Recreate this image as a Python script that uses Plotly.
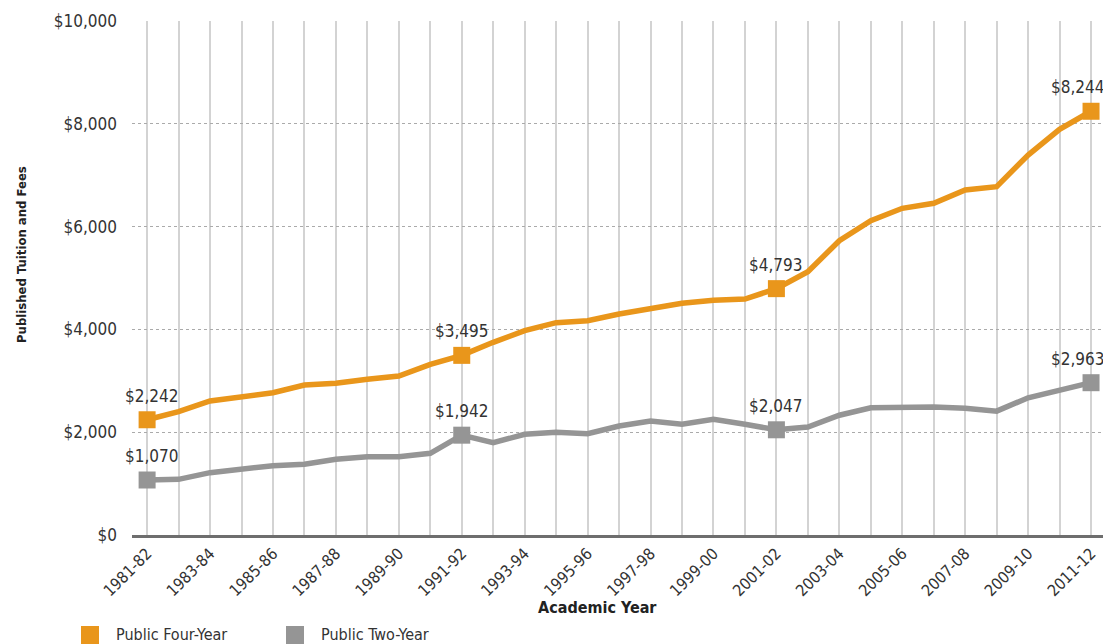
import plotly.graph_objects as go

years = ["1981-82", "1982-83", "1983-84", "1984-85", "1985-86", "1986-87", "1987-88",
         "1988-89", "1989-90", "1990-91", "1991-92", "1992-93", "1993-94", "1994-95",
         "1995-96", "1996-97", "1997-98", "1998-99", "1999-00", "2000-01", "2001-02",
         "2002-03", "2003-04", "2004-05", "2005-06", "2006-07", "2007-08", "2008-09",
         "2009-10", "2010-11", "2011-12"]

four_year = [2242, 2399, 2607, 2679, 2769, 2918, 2951, 3029, 3093, 3321, 3495,
             3749, 3975, 4131, 4170, 4300, 4391, 4508, 4565, 4590, 4793,
             5122, 5726, 6115, 6356, 6453, 6712, 6776, 7393, 7893, 8244]

two_year = [1070, 1083, 1213, 1284, 1349, 1375, 1472, 1524, 1524, 1589, 1942,
            1796, 1959, 1998, 1971, 2121, 2218, 2154, 2251, 2154, 2047,
            2100, 2330, 2475, 2495, 2490, 2465, 2410, 2670, 2830, 2963]

series_names = ["Public Four-Year", "Public Two-Year"]
highlight_idx = [0, 10, 20, 30]
y_ticks = [0, 2000, 4000, 6000, 8000, 10000]

ORANGE = "#E9961B"
GRAY = "#959595"
FONT = "DejaVu Sans Condensed, Roboto, sans-serif"
TXT = "#333333"

# page body has an 8px margin; figure is sized/placed to compensate
W, H = 1103, 636
ML, MR, MT, MB = 124, 8, 13, 109
PW, PH = W - ML - MR, H - MT - MB


def px(sx):  # screen x -> paper x
    return (sx - 8 - ML) / PW


def py(sy):  # screen y -> paper y
    return (H - MB - (sy - 8)) / PH


x_idx = list(range(len(years)))
tick_text = [y if i % 2 == 0 else "" for i, y in enumerate(years)]
label_xshift = {0: 5, 30: -13}

fig = go.Figure()
annotations = []
shapes = []

legend_pos = [(81, 114), (286, 319)]
for (name, vals, col), (lx, tx) in zip(
        [(series_names[0], four_year, ORANGE), (series_names[1], two_year, GRAY)],
        legend_pos):
    fig.add_trace(go.Scatter(x=x_idx, y=vals, mode="lines", name=name,
                             line=dict(color=col, width=5.5),
                             showlegend=False, cliponaxis=False))
    hx = [x_idx[i] for i in highlight_idx]
    hy = [vals[i] for i in highlight_idx]
    fig.add_trace(go.Scatter(x=hx, y=hy, mode="markers", name=name,
                             marker=dict(color=col, symbol="square", size=17),
                             showlegend=False, cliponaxis=False))
    for i in highlight_idx:
        annotations.append(dict(x=x_idx[i], y=vals[i], xref="x", yref="y",
                                text=f"${vals[i]:,}", showarrow=False,
                                xanchor="center", yanchor="middle",
                                yshift=24, xshift=label_xshift.get(i, 0),
                                font=dict(family=FONT, size=17, color=TXT)))
    # legend entry
    shapes.append(dict(type="rect", xref="paper", yref="paper",
                       x0=px(lx), x1=px(lx + 18), y0=py(644), y1=py(626),
                       fillcolor=col, line=dict(width=0)))
    annotations.append(dict(text=name, xref="paper", yref="paper",
                            x=px(tx), y=py(634), xanchor="left", yanchor="middle",
                            showarrow=False,
                            font=dict(family=FONT, size=16, color=TXT)))

annotations += [
    dict(text="<b>Academic Year</b>", xref="paper", yref="paper",
         x=px(597), y=py(607), xanchor="center", yanchor="middle",
         showarrow=False, font=dict(family=FONT, size=16, color="#222222")),
    dict(text="<b>Published Tuition and Fees</b>", xref="paper", yref="paper",
         x=px(21), y=py(255), xanchor="center", yanchor="middle",
         textangle=-90, showarrow=False,
         font=dict(family=FONT, size=13, color="#222222")),
]

fig.update_layout(
    width=W, height=H,
    margin=dict(l=ML, r=MR, t=MT, b=MB),
    paper_bgcolor="white", plot_bgcolor="white",
    font=dict(family=FONT, size=17, color=TXT),
    showlegend=False,
    xaxis=dict(range=[-0.48, 30.38], tickvals=x_idx, ticktext=tick_text,
               tickangle=-45, showgrid=True, gridcolor="#d3d3d3", gridwidth=1.5,
               showline=True, linecolor="#6e6e6e", linewidth=3,
               ticks="", zeroline=False, automargin=False,
               tickfont=dict(family=FONT, size=16, color=TXT)),
    yaxis=dict(range=[0, 10000], tickvals=y_ticks,
               ticktext=[f"${v:,}" for v in y_ticks],
               showgrid=True, gridcolor="#aaaaaa", gridwidth=1, griddash="dot",
               zeroline=False, ticks="", ticklabelstandoff=14, automargin=False,
               tickfont=dict(family=FONT, size=17, color=TXT)),
    annotations=annotations,
    shapes=shapes,
)

fig.write_html("out.html")
